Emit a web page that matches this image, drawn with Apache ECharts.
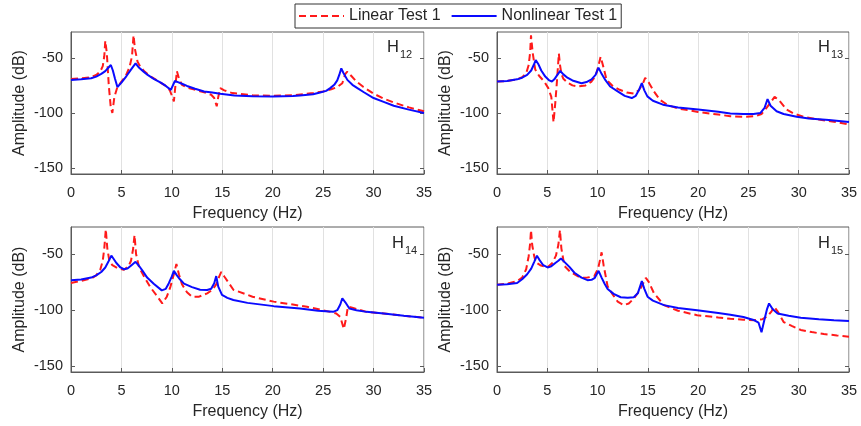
<!DOCTYPE html>
<html>
<head>
    <meta charset="UTF-8">
    <title>FRF comparison</title>
    <script src="https://cdn.jsdelivr.net/npm/echarts@6/dist/echarts.min.js"></script>
    <style>
        html, body {
            margin: 0;
            padding: 0;
            background: #fff;
        }

        #chart {
            width: 861px;
            height: 426px;
        }
    </style>
</head>
<body>
<div id="chart"></div>
<script>
    // ---- data (frequency in Hz, amplitude in dB) ----
    var yTicks = [-150, -100, -50];
    var panelLabels = ['12', '13', '14', '15'];

    // H12
    var h12LinFreq = [0, 1, 2, 2.5, 2.9, 3.15, 3.3, 3.4, 3.55, 3.75, 3.95, 4.1, 4.3, 4.6, 5, 5.4, 5.8, 6.05, 6.2, 6.35, 6.6, 6.9, 7.3, 8, 8.8, 9.4, 9.8, 10.05, 10.2, 10.35, 10.5, 10.7, 11, 11.5, 12.5, 13.3, 13.9, 14.2, 14.45, 14.6, 14.8, 15.2, 16, 18, 20, 22, 24, 25, 25.8, 26.4, 26.9, 27.2, 27.4, 27.8, 28.3, 29, 30, 31, 32, 33.5, 35];
    var h12LinAmp = [-68.6, -68, -67, -65, -62, -57, -48, -34, -45, -75, -95, -99.5, -85, -76, -71, -66.5, -58, -48, -29, -42, -53, -58, -62, -67, -71.5, -75, -79, -85, -89, -75, -61.5, -68, -74, -76.5, -79, -81, -83, -86, -93.5, -85, -77, -79, -81.5, -83.5, -84, -83.5, -81.5, -80, -78, -76, -72.5, -64, -62, -66, -71, -76, -82, -86.5, -90, -94.5, -98];
    var h12NonFreq = [0, 1, 2, 2.5, 3, 3.4, 3.7, 3.95, 4.15, 4.35, 4.6, 5, 5.5, 6, 6.4, 6.7, 7.2, 7.6, 8.2, 8.9, 9.4, 9.9, 10.3, 10.6, 11, 11.5, 12.3, 13.2, 14, 14.8, 16.2, 18, 20, 22, 22.7, 24, 24.7, 25.3, 25.7, 26.1, 26.4, 26.6, 26.8, 27, 27.4, 27.9, 28.4, 29, 30, 31, 32, 33.5, 35];
    var h12NonAmp = [-69.5, -69, -68, -66.5, -64, -61.5, -58.5, -56, -61, -68, -76, -72, -66, -59.5, -54.5, -58, -62, -65, -68.5, -72, -75, -78.6, -70.5, -71.5, -73, -75, -77.5, -80, -81, -82, -83.6, -84.3, -84.5, -84.2, -83.6, -82.5, -81, -79.5, -77, -74, -70, -65, -59, -63, -69.5, -74, -77, -80.5, -86, -89.5, -93, -96.5, -99.5];

    // H13
    var h13LinFreq = [0, 1, 2, 2.5, 2.9, 3.15, 3.3, 3.38, 3.55, 3.8, 4.2, 4.7, 5.1, 5.4, 5.62, 5.8, 5.95, 6.15, 6.25, 6.4, 6.6, 7, 7.5, 8.1, 8.8, 9.4, 9.8, 10.05, 10.3, 10.5, 10.9, 11.5, 12.2, 12.9, 13.6, 14.1, 14.5, 14.73, 15.1, 15.6, 16.2, 17, 18, 20, 22, 23.2, 24.5, 25.7, 26.3, 26.8, 27.2, 27.6, 28, 28.8, 29.5, 30.5, 32, 33.5, 35];
    var h13LinAmp = [-71, -70.5, -69, -67, -63.5, -56, -44, -29, -45, -60, -66, -71, -77, -85, -108, -90, -72, -45.5, -55, -64, -68.5, -72, -74.5, -75.5, -74.5, -71, -66, -58, -48.5, -55, -69.5, -75, -78.5, -81, -82, -79, -73, -67.6, -72, -80, -87.6, -92.5, -95.5, -98.6, -101, -102.5, -103, -102.5, -100.5, -95, -90, -85, -87.5, -96.5, -100, -103, -105.5, -107.5, -110];
    var h13NonFreq = [0, 1, 2, 2.5, 3, 3.4, 3.65, 3.85, 4.1, 4.4, 4.8, 5.2, 5.46, 5.7, 6, 6.29, 6.6, 7, 7.5, 8.4, 8.9, 9.4, 9.8, 10.09, 10.4, 10.8, 11.25, 12, 12.7, 13.4, 13.8, 14.15, 14.4, 14.65, 14.95, 15.5, 16.5, 18, 20, 22, 23.2, 24.5, 25.5, 26.2, 26.6, 26.9, 27.2, 27.8, 28.5, 29.8, 31, 33, 35];
    var h13NonAmp = [-71, -70.5, -69, -67.5, -65, -61, -56, -51.5, -55, -61, -66.5, -70, -71, -69, -65, -61.4, -64.5, -67.5, -70, -72.5, -71.5, -69, -65, -58.4, -64, -70, -75.5, -80, -84, -86, -84, -78, -72.5, -79, -84.5, -88.5, -92, -94.5, -96.5, -98.5, -100, -100.5, -100.5, -99.5, -95, -87, -93, -98, -100.5, -103, -104.5, -106, -107.7];

    // H14
    var h14LinFreq = [0, 1, 2, 2.5, 2.9, 3.15, 3.3, 3.45, 3.6, 3.8, 4.1, 4.6, 5.25, 5.7, 5.95, 6.15, 6.3, 6.45, 6.75, 7.3, 7.9, 8.5, 9.05, 9.5, 9.87, 10.2, 10.45, 10.7, 11, 11.5, 12, 12.7, 13.5, 14, 14.4, 14.7, 14.9, 15.2, 16.1, 18, 20.1, 22, 23.4, 24.7, 25.7, 26.3, 26.7, 27.05, 27.3, 27.45, 27.8, 28.5, 29.3, 31, 33, 35];
    var h14LinAmp = [-75.8, -74, -71.8, -69, -64, -56, -45, -28, -45, -56, -60, -62.5, -64, -61, -56, -46, -33.3, -50, -62, -71, -80, -87, -94, -88, -78.8, -68, -59, -68, -77, -84, -88, -88, -85, -82, -77, -70, -66, -70, -81.8, -88, -92.4, -95, -97, -99.5, -101.5, -103, -106, -116.7, -106, -97, -97.5, -99.5, -101.5, -103, -105, -106.7];
    var h14NonFreq = [0, 1, 2, 2.5, 3, 3.4, 3.7, 4, 4.2, 4.5, 4.9, 5.25, 5.6, 6, 6.4, 6.7, 7.1, 7.55, 8.2, 9, 9.4, 9.7, 10, 10.2, 10.5, 10.8, 11.2, 12, 12.8, 13.5, 13.9, 14.2, 14.4, 14.6, 14.97, 15.5, 16.1, 17.5, 20.1, 22.7, 24.5, 26, 26.4, 26.7, 26.9, 27.2, 27.6, 28.3, 29.3, 31, 33, 35];
    var h14NonAmp = [-73.3, -72.8, -71, -69, -66, -62, -57, -51.5, -54, -58, -62, -63.6, -63, -60, -57, -60, -65, -71, -76.5, -82.4, -81, -76, -70, -65, -69, -72.5, -76.4, -79.5, -81.8, -82, -81, -76, -69.7, -79, -86.4, -89, -91, -93.5, -96.4, -98.5, -100.5, -101.5, -100, -95, -89.4, -93, -98.5, -100, -101.5, -103, -105, -106.7];

    // H15
    var h15LinFreq = [0, 1, 2, 2.5, 2.9, 3.15, 3.3, 3.38, 3.5, 3.7, 3.87, 4.3, 5, 5.5, 5.86, 6.1, 6.26, 6.4, 6.7, 7.3, 8.3, 9, 9.67, 10.05, 10.25, 10.4, 10.6, 11, 11.5, 12, 12.6, 13.1, 13.64, 14.2, 14.6, 14.8, 15.1, 15.6, 16.6, 18, 19.9, 22, 23.2, 24.5, 25.6, 26.4, 26.9, 27.3, 27.55, 27.9, 28.5, 29.3, 30.2, 31.3, 32.5, 33.8, 35];
    var h15LinAmp = [-77.3, -76.5, -74.2, -71, -63.6, -52, -40, -28.8, -42, -52, -57.6, -60, -62, -58, -51.5, -42, -28.8, -45, -60.6, -66, -71.2, -71, -69.7, -63, -55, -48.5, -60, -78.8, -86, -92.4, -95.5, -94, -89.4, -82, -75, -71.2, -75, -84.8, -95.5, -100.5, -104.5, -106.5, -107.6, -108.5, -109, -108, -105.5, -101, -97, -101, -110.6, -114, -117.6, -119.5, -121.2, -122.5, -123.6];
    var h15NonFreq = [0, 1, 2, 2.5, 3, 3.4, 3.7, 3.97, 4.2, 4.6, 5.03, 5.4, 5.8, 6.1, 6.36, 6.7, 7.2, 7.7, 8.4, 9, 9.4, 9.73, 10.1, 10.4, 10.7, 11, 11.6, 12.3, 13, 13.6, 14, 14.4, 14.65, 14.97, 15.5, 16.6, 18, 19.9, 22, 23.2, 24.5, 25.6, 26, 26.3, 26.6, 26.85, 27.05, 27.4, 27.9, 29, 30.2, 32, 33.5, 35];
    var h15NonAmp = [-77.3, -77, -75.8, -72.5, -68, -63, -57, -51.5, -55, -60, -62, -61, -58, -56, -54, -57, -61.5, -66.7, -71, -73.3, -73, -71.2, -65, -71, -76.5, -81.2, -85.5, -88.5, -89, -88.5, -85, -74.2, -81, -88, -91.5, -95.5, -98, -100, -102.5, -104, -106, -109, -111, -119.7, -108, -99, -94, -99, -103, -105, -106.7, -108, -109, -109.7];

    var linFreq = [h12LinFreq, h13LinFreq, h14LinFreq, h15LinFreq];
    var linAmp = [h12LinAmp, h13LinAmp, h14LinAmp, h15LinAmp];
    var nonFreq = [h12NonFreq, h13NonFreq, h14NonFreq, h15NonFreq];
    var nonAmp = [h12NonAmp, h13NonAmp, h14NonAmp, h15NonAmp];

    function zip(xs, ys) {
        var out = [];
        for (var i = 0; i < xs.length; i++) out.push([xs[i], ys[i]]);
        return out;
    }

    var FONT = 'Liberation Sans';
    var TXT = '#262626';
    var AXIS = '#5a5a5a';

    var grids = [
        {left: 71, top: 32, width: 353, height: 142},
        {left: 497, top: 32, width: 352, height: 142},
        {left: 71, top: 227, width: 353, height: 145},
        {left: 497, top: 227, width: 352, height: 145}
    ];
    // where the H_1x labels sit (top-left of the "H")
    var labelPos = [[387, 39], [818, 39], [392, 235], [818, 235]];

    var xAxes = [], yAxes = [], series = [], graphics = [];
    grids.forEach(function (g, i) {
        g.show = true;
        g.borderColor = AXIS;
        g.borderWidth = 1;
        g.backgroundColor = 'transparent';

        xAxes.push({
            type: 'value', gridIndex: i, min: 0, max: 35, interval: 5,
            name: 'Frequency (Hz)', nameLocation: 'middle', nameGap: 32,
            nameTextStyle: {fontFamily: FONT, fontSize: 16, color: TXT},
            axisLine: {show: true, lineStyle: {color: AXIS}},
            axisTick: {show: true, inside: true, length: 4, lineStyle: {color: AXIS}},
            axisLabel: {fontFamily: FONT, fontSize: 14.5, color: TXT, margin: 11},
            splitLine: {show: true, lineStyle: {color: '#e1e1e1', width: 1}}
        });
        yAxes.push({
            type: 'value', gridIndex: i, min: -155, max: -26, position: 'left',
            name: 'Amplitude (dB)', nameLocation: 'middle', nameGap: 43,
            nameTextStyle: {fontFamily: FONT, fontSize: 16, color: TXT},
            axisLine: {show: true, lineStyle: {color: AXIS}},
            axisTick: {show: true, inside: true, length: 4, customValues: yTicks, lineStyle: {color: AXIS}},
            axisLabel: {fontFamily: FONT, fontSize: 14.5, color: TXT, margin: 8, customValues: yTicks},
            splitLine: {show: false}
        });
        yAxes.push({
            type: 'value', gridIndex: i, min: -155, max: -26, position: 'right',
            axisLine: {show: false},
            axisTick: {show: true, inside: true, length: 4, customValues: yTicks, lineStyle: {color: AXIS}},
            axisLabel: {show: false},
            splitLine: {show: false}
        });

        series.push({
            name: 'Linear Test 1', type: 'line', xAxisIndex: i, yAxisIndex: 2 * i,
            data: zip(linFreq[i], linAmp[i]), symbol: 'none', z: 2,
            lineStyle: {color: '#ff1a1a', width: 2, type: [7, 4]},
            itemStyle: {color: '#ff1a1a'}
        });
        series.push({
            name: 'Nonlinear Test 1', type: 'line', xAxisIndex: i, yAxisIndex: 2 * i,
            data: zip(nonFreq[i], nonAmp[i]), symbol: 'none', z: 3,
            lineStyle: {color: '#0a0aff', width: 2},
            itemStyle: {color: '#0a0aff'}
        });

        graphics.push({
            type: 'text', left: labelPos[i][0], top: labelPos[i][1], z: 10,
            style: {text: 'H', font: '16.5px "Liberation Sans"', fill: TXT}
        });
        graphics.push({
            type: 'text', left: labelPos[i][0] + 13, top: labelPos[i][1] + 10, z: 10,
            style: {text: panelLabels[i], font: '11px "Liberation Sans"', fill: TXT}
        });
    });

    var echart = echarts.init(document.getElementById('chart'));
    echart.setOption({
        animation: false,
        backgroundColor: '#fff',
        grid: grids,
        xAxis: xAxes,
        yAxis: yAxes,
        legend: {
            data: ['Linear Test 1', 'Nonlinear Test 1'],
            left: 295, top: 4,
            itemWidth: 45, itemHeight: 14, itemGap: 10,
            padding: [4, 4, 4, 3],
            borderColor: '#333', borderWidth: 1,
            backgroundColor: '#fff',
            itemStyle: {opacity: 0},
            textStyle: {fontFamily: FONT, fontSize: 16, color: TXT}
        },
        graphic: graphics,
        series: series
    });
</script>
</body>
</html>
